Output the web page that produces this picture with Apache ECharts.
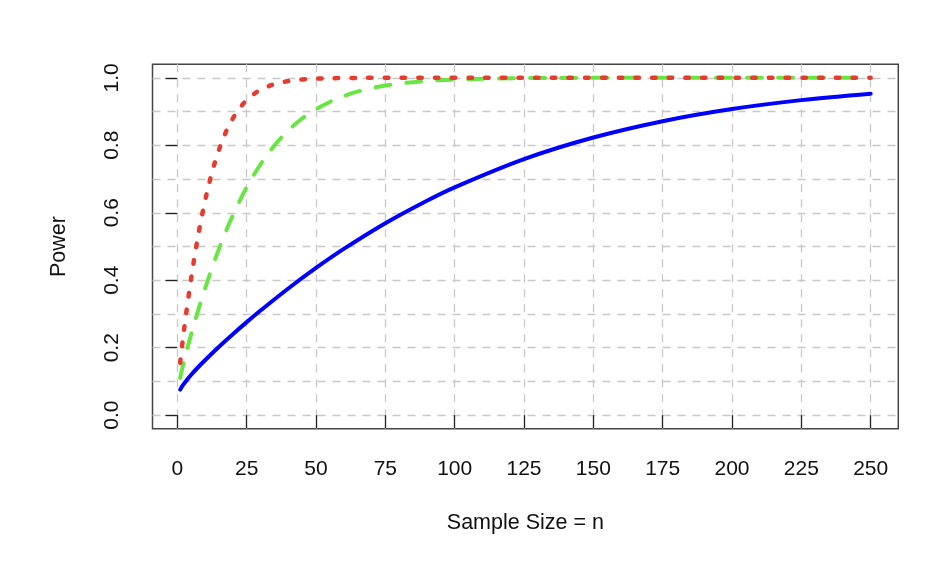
<!DOCTYPE html>
<html>
<head>
<meta charset="utf-8">
<script src="https://cdn.jsdelivr.net/npm/echarts@6/dist/echarts.min.js"></script>
<style>
html,body{margin:0;padding:0;background:#fff;}
#chart{width:944px;height:568px;}
</style>
</head>
<body>
<div id="chart"></div>
<script>
// ---- data ----
const blueN = [1, 2, 3, 5, 8, 12, 16, 20, 25, 30, 40, 50, 60, 75, 90, 100, 125, 150, 175, 200, 225, 250];
const bluePower = [0.0757, 0.0888, 0.1001, 0.1200, 0.1466, 0.1793, 0.2104, 0.2401, 0.2759, 0.3103, 0.3756, 0.4364, 0.4928, 0.5691, 0.6357, 0.6754, 0.7590, 0.8230, 0.8714, 0.9074, 0.9338, 0.9530];

const greenN = [1, 2, 3, 4, 5, 6, 8, 10, 12, 15, 18, 20, 25, 30, 35, 40, 45, 50, 60, 70, 80, 90, 100, 125, 150, 200, 250];
const greenPower = [0.1103, 0.1466, 0.1793, 0.2104, 0.2401, 0.2690, 0.3238, 0.3756, 0.4247, 0.4928, 0.5545, 0.5921, 0.6754, 0.7438, 0.7995, 0.8440, 0.8794, 0.9074, 0.9461, 0.9692, 0.9827, 0.9904, 0.9947, 0.9989, 0.9998, 1.0000, 1.0000];

const redN = [1, 2, 3, 4, 5, 6, 7, 8, 9, 10, 12, 14, 16, 18, 20, 22, 25, 28, 30, 35, 40, 45, 50, 60, 75, 100, 150, 200, 250];
const redPower = [0.1551, 0.2254, 0.2898, 0.3501, 0.4067, 0.4594, 0.5088, 0.5545, 0.5968, 0.6357, 0.7044, 0.7618, 0.8092, 0.8480, 0.8794, 0.9049, 0.9338, 0.9544, 0.9645, 0.9813, 0.9903, 0.9951, 0.9975, 0.9994, 0.9999, 1.0000, 1.0000, 1.0000, 1.0000];

const xTickValues = [0, 25, 50, 75, 100, 125, 150, 175, 200, 225, 250];
const yTickValues = [0, 0.2, 0.4, 0.6, 0.8, 1.0];
const yGridValues = [0, 0.1, 0.2, 0.3, 0.4, 0.5, 0.6, 0.7, 0.8, 0.9, 1.0];

const xTitle = 'Sample Size = n';
const yTitle = 'Power';

// ---- chart ----
function pairs(xs, ys) { return xs.map((x, i) => [x, ys[i]]); }

const FONT = '"Liberation Sans", Arial, Helvetica, sans-serif';
const gridLine = { show: true, lineStyle: { color: '#c8c8c8', width: 1.3, type: [8, 7] } };

const chart = echarts.init(document.getElementById('chart'), null, { renderer: 'canvas' });
chart.setOption({
  animation: false,
  backgroundColor: '#ffffff',
  grid: {
    left: 152.5, right: 45.7, top: 64.3, bottom: 139.3,
    show: true, borderColor: '#444', borderWidth: 1.5, backgroundColor: 'transparent'
  },
  xAxis: {
    type: 'value', min: -8.96, max: 259.96,
    name: xTitle, nameLocation: 'middle', nameGap: 83,
    nameTextStyle: { fontFamily: FONT, fontSize: 21.5, color: '#111' },
    axisLine: { show: false },
    axisTick: { show: true, length: 13, customValues: xTickValues, lineStyle: { color: '#222', width: 1.3 } },
    axisLabel: { customValues: xTickValues, margin: 30, fontFamily: FONT, fontSize: 21, color: '#111' },
    splitLine: gridLine
  },
  yAxis: [{
    type: 'value', min: -0.04, max: 1.04,
    name: yTitle, nameLocation: 'middle', nameGap: 82,
    nameTextStyle: { fontFamily: FONT, fontSize: 21.5, color: '#111' },
    axisLine: { show: false },
    axisTick: { show: true, length: 12, customValues: yTickValues, lineStyle: { color: '#222', width: 1.3 } },
    axisLabel: { customValues: yTickValues, rotate: 90, margin: 30, fontFamily: FONT, fontSize: 21, color: '#111',
      formatter: v => v.toFixed(1) },
    splitLine: { show: false }
  }, {
    type: 'value', min: -0.04, max: 1.04, position: 'left',
    axisLine: { show: false },
    axisTick: { show: false, customValues: yGridValues },
    axisLabel: { show: false },
    splitLine: gridLine
  }],
  series: [{
    type: 'line', data: pairs(blueN, bluePower), showSymbol: false, symbol: 'none',
    smooth: 0.35,
    lineStyle: { color: '#0000ff', width: 4, cap: 'round', join: 'round' }
  }, {
    type: 'line', data: pairs(greenN, greenPower), showSymbol: false, symbol: 'none',
    smooth: 0.35,
    lineStyle: { color: '#66e640', width: 4, type: [15, 16], cap: 'round', join: 'round' }
  }, {
    type: 'line', data: pairs(redN, redPower), showSymbol: false, symbol: 'none',
    smooth: 0.35,
    lineStyle: { color: '#e63b2e', width: 4.5, type: [3.5, 13.2], cap: 'round', join: 'round' }
  }]
});
</script>
</body>
</html>
